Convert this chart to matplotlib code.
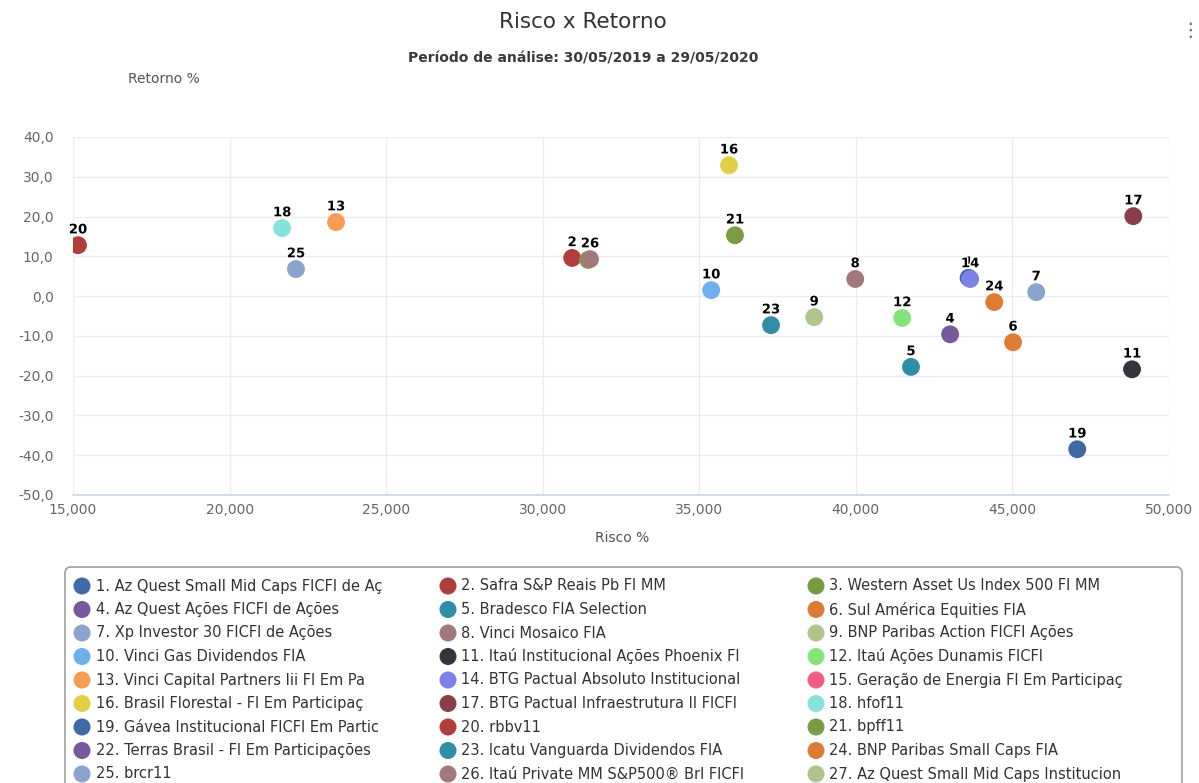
import numpy as np
import matplotlib
matplotlib.use("Agg")
import matplotlib.pyplot as plt
from matplotlib.patches import FancyBboxPatch
import matplotlib.patheffects as pe

plt.rcParams['font.family'] = ['DejaVu Sans']

# ---------------- data ----------------
ids = list(range(1, 28))
names = [
    "1. Az Quest Small Mid Caps FICFI de Aç",
    "2. Safra S&P Reais Pb FI MM",
    "3. Western Asset Us Index 500 FI MM",
    "4. Az Quest Ações FICFI de Ações",
    "5. Bradesco FIA Selection",
    "6. Sul América Equities FIA",
    "7. Xp Investor 30 FICFI de Ações",
    "8. Vinci Mosaico FIA",
    "9. BNP Paribas Action FICFI Ações",
    "10. Vinci Gas Dividendos FIA",
    "11. Itaú Institucional Ações Phoenix FI",
    "12. Itaú Ações Dunamis FICFI",
    "13. Vinci Capital Partners Iii FI Em Pa",
    "14. BTG Pactual Absoluto Institucional",
    "15. Geração de Energia FI Em Participaç",
    "16. Brasil Florestal - FI Em Participaç",
    "17. BTG Pactual Infraestrutura II FICFI",
    "18. hfof11",
    "19. Gávea Institucional FICFI Em Partic",
    "20. rbbv11",
    "21. bpff11",
    "22. Terras Brasil - FI Em Participações",
    "23. Icatu Vanguarda Dividendos FIA",
    "24. BNP Paribas Small Caps FIA",
    "25. brcr11",
    "26. Itaú Private MM S&P500® Brl FICFI",
    "27. Az Quest Small Mid Caps Institucion",
]
risco = [43.60, 30.94, 31.45, 43.01, 41.76, 45.02, 45.76, 39.98, 38.67,
         35.38, 48.82, 41.48, 23.40, 43.65, np.nan, 35.95, 48.86, 21.68,
         47.07, 15.16, 36.14, np.nan, 37.29, 44.42, 22.12, 31.51, np.nan]
retorno = [4.6, 9.6, 9.1, -9.6, -17.8, -11.6, 1.0, 4.3, -5.3,
           1.5, -18.4, -5.5, 18.6, 4.3, np.nan, 32.9, 20.1, 17.1,
           -38.5, 12.8, 15.3, np.nan, -7.3, -1.5, 6.8, 9.3, np.nan]
# labels that are shown on the chart (others hidden by overlap)
shown_labels = [1, 2, 4, 5, 6, 7, 8, 9, 10, 11, 12, 13, 14, 16, 17, 18,
                19, 20, 21, 23, 24, 25, 26]

palette = ['#3f6aa6', '#b03e3c', '#7b9a44', '#765a9b', '#308da8', '#de7c34',
           '#8aa4cd', '#a3787a', '#afc58c', '#6fb0ec', '#33353d', '#84e47a',
           '#f79c55', '#7b82ea', '#f15c80', '#e3cf45', '#8d3c4a', '#86e3dc']
colors = [palette[(i - 1) % 18] for i in ids]

xticks = [15, 20, 25, 30, 35, 40, 45, 50]
xticklabels = ["15,000", "20,000", "25,000", "30,000", "35,000", "40,000", "45,000", "50,000"]
yticks = [40, 30, 20, 10, 0, -10, -20, -30, -40, -50]
yticklabels = ["40,0", "30,0", "20,0", "10,0", "0,0", "-10,0", "-20,0", "-30,0", "-40,0", "-50,0"]

# ---------------- figure ----------------
W, H = 1199, 783
fig = plt.figure(figsize=(W / 100, H / 100), dpi=100)
fig.patch.set_facecolor('white')

def fx(px):
    return px / W

def fy(py):
    return 1 - py / H

L, R, T, B = 73, 1169, 137, 495
ax = fig.add_axes([fx(L), fy(B), fx(R) - fx(L), fy(T) - fy(B)])
ax.set_xlim(15, 50)
ax.set_ylim(-50, 40)
ax.set_xticks(xticks)
ax.set_xticklabels(xticklabels)
ax.set_yticks(yticks)
ax.set_yticklabels(yticklabels)
ax.grid(True, color='#e9ecf2', linewidth=1)
ax.set_axisbelow(True)
for s in ['top', 'right', 'left']:
    ax.spines[s].set_visible(False)
ax.spines['bottom'].set_color('#ccd6eb')
ax.spines['bottom'].set_linewidth(1.2)
ax.tick_params(axis='both', length=0, labelsize=10, labelcolor='#666666')
ax.tick_params(axis='x', pad=6)
ax.tick_params(axis='y', pad=14)
for lab in ax.get_yticklabels():
    lab.set_horizontalalignment('right')

for i, x, y, c in zip(ids, risco, retorno, colors):
    if np.isnan(x):
        continue
    ax.scatter([x], [y], s=165, color=c, edgecolors='none', zorder=3 + i * 0.01)

for i, x, y in zip(ids, risco, retorno):
    if i in shown_labels and not np.isnan(x):
        ax.annotate(str(i), (x, y), xytext=(0, 11), textcoords='offset points',
                    ha='center', va='center', fontsize=9.5, fontweight='bold',
                    color='black', zorder=10,
                    path_effects=[pe.withStroke(linewidth=2, foreground='white')])

# ---------------- texts ----------------
fig.text(fx(583), fy(22), "Risco x Retorno", ha='center', va='center',
         fontsize=15.5, color='#333333')
fig.text(fx(583), fy(58), "Período de análise: 30/05/2019 a 29/05/2020",
         ha='center', va='center', fontsize=10, fontweight='bold', color='#3a3a3a')
fig.text(fx(164), fy(79), "Retorno %", ha='center', va='center',
         fontsize=10, color='#555555')
fig.text(fx(622), fy(538), "Risco %", ha='center', va='center',
         fontsize=10, color='#555555')
fig.text(fx(1190), fy(30), "⋮", ha='center', va='center', fontsize=14, color='#666666')

# ---------------- legend ----------------
lax = fig.add_axes([0, 0, 1, 1])
lax.set_xlim(0, W)
lax.set_ylim(H, 0)
lax.axis('off')
box = FancyBboxPatch((65, 567), 1182 - 65, 260, boxstyle="round,pad=0,rounding_size=6",
                     facecolor='white', edgecolor='#a0a0a0', linewidth=1.2, zorder=1)
lax.add_patch(box)
col_marker = [82, 448, 816]
col_text = [96, 461, 829]
row0, drow = 586, 23.5
for k, (name, c) in enumerate(zip(names, colors)):
    r, col = divmod(k, 3)
    yy = row0 + r * drow
    lax.scatter([col_marker[col]], [yy], s=150, color=c, edgecolors='none', zorder=2)
    lax.text(col_text[col], yy, name, ha='left', va='center', fontsize=10.5,
             color='#333333', zorder=2)

fig.savefig("out.png", dpi=100, facecolor='white')
